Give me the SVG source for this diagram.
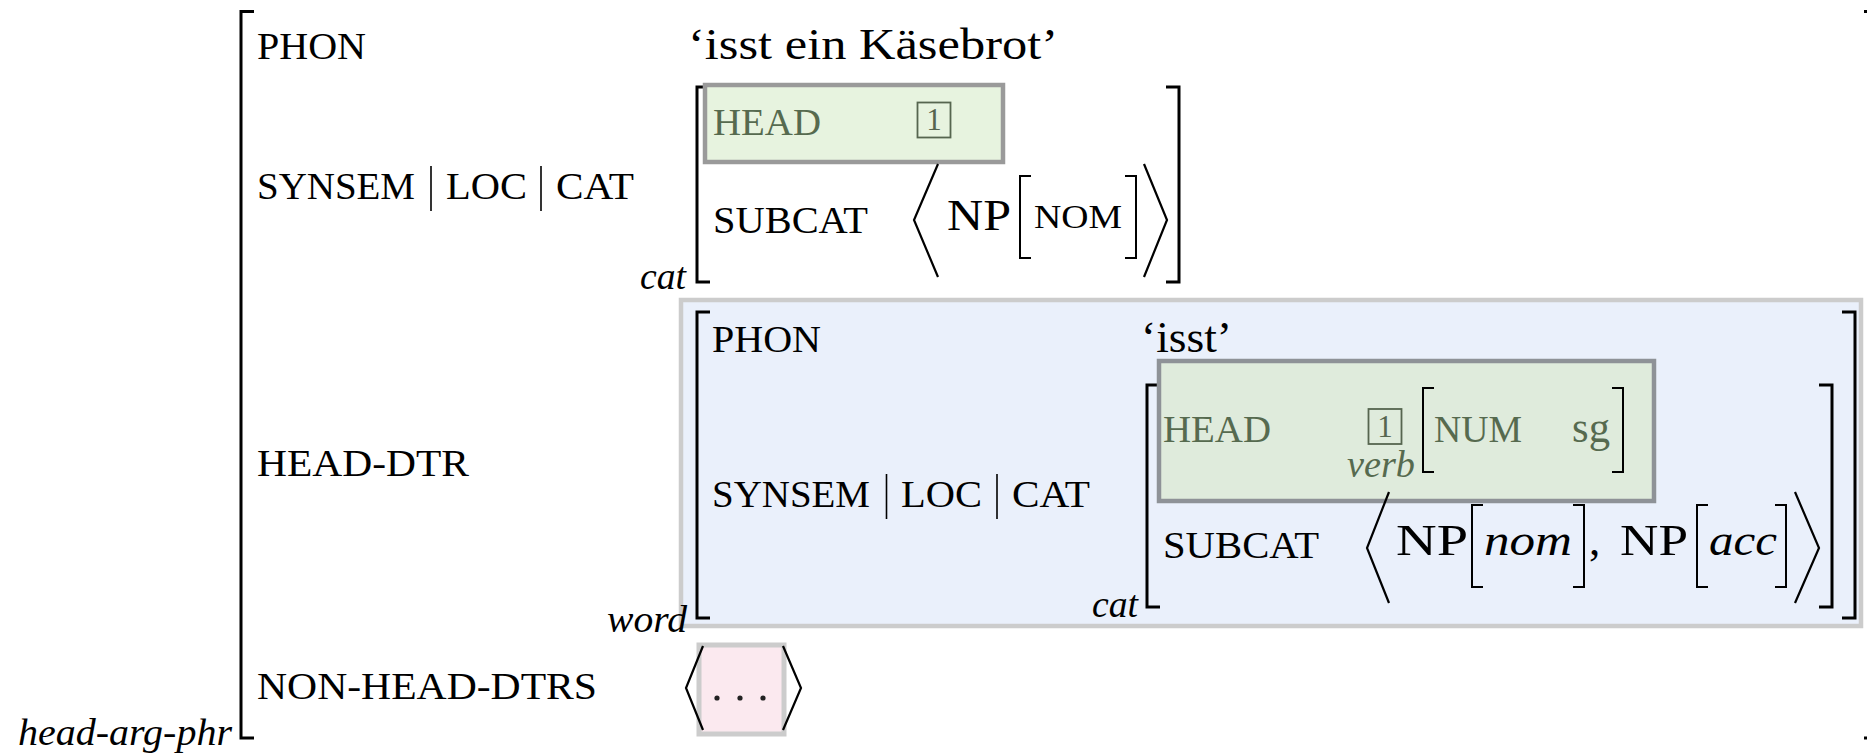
<svg xmlns="http://www.w3.org/2000/svg" width="1867" height="754" viewBox="0 0 1867 754" font-family="'Liberation Serif', 'DejaVu Serif', serif">
  <style>
    .lbl { font-size: 38px; }
    .big { font-size: 45px; }
    .sc { font-size: 34px; }
    .it { font-style: italic; font-size: 37px; }
    .itbig { font-style: italic; font-size: 45px; }
    .dim { fill: #566a4f; }
    .brk { fill: none; stroke: #000; stroke-width: 3; }
    .sbrk { fill: none; stroke: #000; stroke-width: 2; }
    .ang { fill: none; stroke: #000; stroke-width: 2.2; stroke-linejoin: miter; }
    .bar { stroke: #000; stroke-width: 1.6; }
    .tag { fill: none; stroke: #56654f; stroke-width: 1.8; }
    .tagnum { font-size: 31px; fill: #56654f; text-anchor: middle; }
  </style>

  <!-- outer structure: head-arg-phr -->
  <g id="phrase">
    <path class="brk" d="M254,11.5 H241 V738 H254"/>
    <path class="brk" d="M1864,11.5 H1869.5 V738 H1864"/>
    <text class="it" x="232" y="745" text-anchor="end" textLength="214" lengthAdjust="spacingAndGlyphs">head-arg-phr</text>
    <text class="lbl" x="257" y="59" textLength="109" lengthAdjust="spacingAndGlyphs">PHON</text>
    <text class="big" x="688" y="59" font-size="44" textLength="370" lengthAdjust="spacingAndGlyphs">‘isst ein Käsebrot’</text>
    <text class="lbl" x="257" y="199" textLength="158" lengthAdjust="spacingAndGlyphs">SYNSEM</text>
    <line class="bar" x1="431" y1="166" x2="431" y2="211"/>
    <text class="lbl" x="446" y="199" textLength="81" lengthAdjust="spacingAndGlyphs">LOC</text>
    <line class="bar" x1="541" y1="166" x2="541" y2="211"/>
    <text class="lbl" x="556" y="199" textLength="78" lengthAdjust="spacingAndGlyphs">CAT</text>
    <text class="lbl" x="257" y="476" textLength="212" lengthAdjust="spacingAndGlyphs">HEAD-DTR</text>
    <text class="lbl" x="257" y="699" textLength="340" lengthAdjust="spacingAndGlyphs">NON-HEAD-DTRS</text>
  </g>

  <!-- cat value of the mother -->
  <g id="mother-cat">
    <text class="it" x="686" y="289" text-anchor="end" textLength="46" lengthAdjust="spacingAndGlyphs">cat</text>
    <path class="brk" d="M710,87 H697 V282 H710"/>
    <path class="brk" d="M1166,87 H1179 V282 H1166"/>
    <rect x="705" y="85" width="298" height="77" fill="#e7f3df" stroke="#9a9a9a" stroke-width="4.5"/>
    <text class="lbl dim" x="713" y="135" textLength="108" lengthAdjust="spacingAndGlyphs">HEAD</text>
    <rect class="tag" x="917.5" y="102.5" width="33" height="35"/>
    <text class="tagnum" x="934" y="130">1</text>
    <text class="lbl" x="713" y="233" textLength="155" lengthAdjust="spacingAndGlyphs">SUBCAT</text>
    <polyline class="ang" points="938,164 914,220 938,277"/>
    <text class="big" x="947" y="230" textLength="64" lengthAdjust="spacingAndGlyphs">NP</text>
    <path class="sbrk" d="M1031,176 H1020 V258 H1031"/>
    <text class="sc" x="1034" y="228" textLength="88" lengthAdjust="spacingAndGlyphs">NOM</text>
    <path class="sbrk" d="M1125,176 H1136 V258 H1125"/>
    <polyline class="ang" points="1144,164 1167,220 1144,277"/>
  </g>

  <!-- head daughter: word -->
  <g id="head-dtr">
    <rect x="681" y="300" width="1180" height="326" fill="#eaf0fb" stroke="#cccccc" stroke-width="4.5"/>
    <text class="it" x="687" y="632" text-anchor="end" textLength="80" lengthAdjust="spacingAndGlyphs">word</text>
    <path class="brk" d="M710,312 H697 V618 H710"/>
    <path class="brk" d="M1842,312 H1855 V618 H1842"/>
    <text class="lbl" x="712" y="352" textLength="109" lengthAdjust="spacingAndGlyphs">PHON</text>
    <text class="big" x="1141" y="352" font-size="44" textLength="91" lengthAdjust="spacingAndGlyphs">‘isst’</text>
    <text class="lbl" x="712" y="507" textLength="158" lengthAdjust="spacingAndGlyphs">SYNSEM</text>
    <line class="bar" x1="886.5" y1="474" x2="886.5" y2="519"/>
    <text class="lbl" x="901" y="507" textLength="81" lengthAdjust="spacingAndGlyphs">LOC</text>
    <line class="bar" x1="997" y1="474" x2="997" y2="519"/>
    <text class="lbl" x="1012" y="507" textLength="78" lengthAdjust="spacingAndGlyphs">CAT</text>
  </g>

  <!-- cat value of the head daughter -->
  <g id="head-dtr-cat">
    <text class="it" x="1138" y="617" text-anchor="end" textLength="46" lengthAdjust="spacingAndGlyphs">cat</text>
    <path class="brk" d="M1160,385 H1147 V607 H1160"/>
    <path class="brk" d="M1819,385 H1832 V607 H1819"/>
    <rect x="1159" y="361" width="495" height="140" fill="#dfebdc" stroke="#8e9297" stroke-width="4.5"/>
    <text class="lbl dim" x="1163" y="442" textLength="108" lengthAdjust="spacingAndGlyphs">HEAD</text>
    <rect class="tag" x="1368.5" y="409" width="33" height="35"/>
    <text class="tagnum" x="1385" y="436.5">1</text>
    <text class="it dim" x="1415" y="477" font-size="33" text-anchor="end" textLength="68" lengthAdjust="spacingAndGlyphs">verb</text>
    <path class="sbrk" d="M1434,388 H1423 V472 H1434" stroke="#566a4f"/>
    <text class="lbl dim" x="1434" y="442" textLength="88" lengthAdjust="spacingAndGlyphs">NUM</text>
    <text class="big dim" x="1572" y="442" font-size="44" textLength="38" lengthAdjust="spacingAndGlyphs">sg</text>
    <path class="sbrk" d="M1612,388 H1623 V472 H1612" stroke="#566a4f"/>
    <text class="lbl" x="1163" y="558" textLength="156" lengthAdjust="spacingAndGlyphs">SUBCAT</text>
    <polyline class="ang" points="1389,492 1367,548 1389,603"/>
    <text class="big" x="1396" y="555" textLength="72" lengthAdjust="spacingAndGlyphs">NP</text>
    <path class="sbrk" d="M1483,505 H1472 V587 H1483"/>
    <text class="itbig" x="1484" y="555" textLength="88" lengthAdjust="spacingAndGlyphs">nom</text>
    <path class="sbrk" d="M1573,505 H1584 V587 H1573"/>
    <text class="big" x="1589" y="555">,</text>
    <text class="big" x="1620" y="555" textLength="68" lengthAdjust="spacingAndGlyphs">NP</text>
    <path class="sbrk" d="M1708,505 H1697 V587 H1708"/>
    <text class="itbig" x="1709" y="555" textLength="68" lengthAdjust="spacingAndGlyphs">acc</text>
    <path class="sbrk" d="M1775,505 H1786 V587 H1775"/>
    <polyline class="ang" points="1795,492 1819,548 1795,603"/>
  </g>

  <!-- non-head daughters list -->
  <g id="non-head-dtrs">
    <rect x="699" y="645" width="85" height="89" fill="#fbe9ef" stroke="#cccccc" stroke-width="5"/>
    <polyline class="ang" points="703,646 686,688 703,730"/>
    <polyline class="ang" points="783,646 801,688 783,730"/>
    <circle cx="717" cy="698" r="2.6" fill="#222"/>
    <circle cx="740" cy="698" r="2.6" fill="#222"/>
    <circle cx="763" cy="698" r="2.6" fill="#222"/>
  </g>
</svg>
